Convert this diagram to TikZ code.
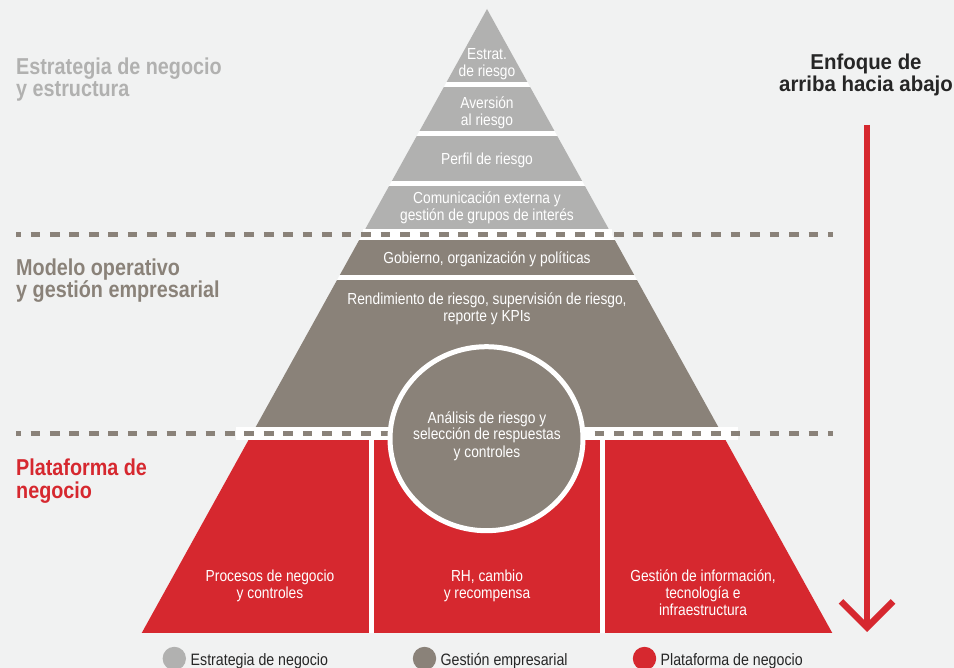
\documentclass[tikz,border=0pt]{standalone}
\usepackage{fontspec}
\setmainfont{Liberation Sans}[FakeStretch=0.86]
\newfontfamily\headfont{Liberation Sans}[FakeStretch=0.95]
\definecolor{bgc}{HTML}{F1F2F2}
\definecolor{lgray}{HTML}{B1B1B0}
\definecolor{taupe}{HTML}{8A8279}
\definecolor{pred}{HTML}{D6282F}
\definecolor{dark}{HTML}{262626}
\tikzset{
  ptext/.style={text=white, font=\fontsize{16}{17}\selectfont, align=center, inner sep=0pt, anchor=base},
  sidelabel/.style={font=\bfseries\fontsize{23}{22.3}\selectfont, align=left, inner sep=0pt, anchor=base west},
  dashline/.style={draw=taupe, line width=4.7pt, dash pattern=on 9.65pt off 9.8pt, dash phase=4.95pt},
  legdot/.style={circle, minimum size=23.4pt, inner sep=0pt},
  legtext/.style={font=\fontsize{16.5}{18}\selectfont, text=dark, inner sep=0pt, anchor=base west},
  arrowline/.style={draw=pred, line width=6.5pt, miter limit=10},
}
\begin{document}
\begin{tikzpicture}[x=1pt,y=-1pt]
\fill[bgc] (0,0) rectangle (954,668);
\useasboundingbox (0,0) rectangle (954,668);

% pyramid layers
\begin{scope}
  \clip (487,9) -- (141.7,633) -- (832.3,633) -- cycle;
  \fill[white] (0,0) rectangle (954,668);
  \fill[lgray] (0,0) rectangle (954,82);
  \fill[lgray] (0,87) rectangle (954,131);
  \fill[lgray] (0,136) rectangle (954,181.5);
  \fill[lgray] (0,186.5) rectangle (954,229);
  \fill[taupe] (0,240) rectangle (954,275);
  \fill[taupe] (0,280.5) rectangle (954,427.5);
  \fill[pred] (0,440.5) rectangle (368.5,633);
  \fill[pred] (373.5,440.5) rectangle (600,633);
  \fill[pred] (605,440.5) rectangle (954,633);
\end{scope}

% white bands and dashed separators
\fill[white] (363,229) rectangle (611.5,240);
\fill[white] (236,427.5) rectangle (738,440.5);
\draw[dashline] (16,234.3) -- (833,234.3);
\draw[dashline] (16,433.8) -- (833,433.8);

% central circle
\filldraw[fill=taupe, draw=white, line width=5pt] (486.5,438.7) ellipse [x radius=96.5, y radius=92];

% pyramid texts (anchor = baseline of the last line)
\node[ptext] (estrat) at (487,77) {Estrat.\\de riesgo};
\node[ptext] (aversion) at (487,125.3) {Aversión\\al riesgo};
\node[ptext] (perfil) at (487,165) {Perfil de riesgo};
\node[ptext] (comunic) at (487,221) {Comunicación externa y\\gestión de grupos de interés};
\node[ptext] (gobierno) at (487,264) {Gobierno, organización y políticas};
\node[ptext] (rendim) at (487,322) {Rendimiento de riesgo, supervisión de riesgo,\\reporte y KPIs};
\node[ptext] (analisis) at (487,457) {Análisis de riesgo y\\selección de respuestas\\y controles};
\node[ptext] (procesos) at (270,598) {Procesos de negocio\\y controles};
\node[ptext] (rh) at (487,598) {RH, cambio\\y recompensa};
\node[ptext] (gestion) at (703,615) {Gestión de información,\\tecnología e\\infraestructura};

% side labels
\node[sidelabel, text=lgray] (lab1) at (16,97) {Estrategia de negocio\\y estructura};
\node[sidelabel, text=taupe] (lab2) at (16,297.5) {Modelo operativo\\y gestión empresarial};
\node[sidelabel, text=pred] (lab3) at (16,498) {Plataforma de\\negocio};

% heading and arrow
\node[font=\headfont\bfseries\fontsize{21.5}{22}\selectfont, text=dark, align=center, inner sep=0pt, anchor=base] (head) at (866,92) {Enfoque de\\arriba hacia abajo};
\coordinate (arrtop) at (867,125);
\coordinate (arrtip) at (867,627.4);
\coordinate (armL) at (841,601.4);
\coordinate (armR) at (893,601.4);
\draw[arrowline] (arrtop) -- (arrtip);
\draw[arrowline] (armL) -- (arrtip) -- (armR);

% legend
\node[legdot, fill=lgray] (dot1) at (174.3,658.5) {};
\node[legdot, fill=taupe] (dot2) at (424.5,658.5) {};
\node[legdot, fill=pred] (dot3) at (644.5,658.5) {};
\node[legtext] (leg1) at (190.5,665) {Estrategia de negocio};
\node[legtext] (leg2) at (440.5,665) {Gestión empresarial};
\node[legtext] (leg3) at (660.5,665) {Plataforma de negocio};
\end{tikzpicture}
\end{document}
